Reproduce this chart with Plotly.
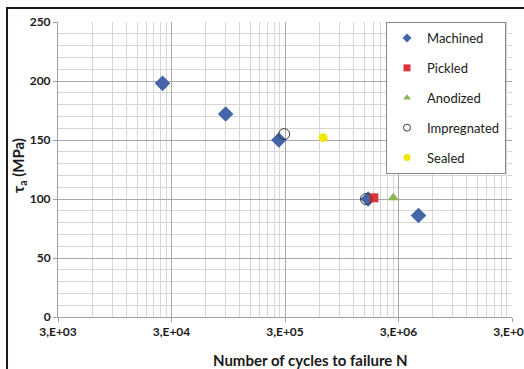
import plotly.graph_objects as go

# Torsional fatigue results: shear stress amplitude vs. cycles to failure
machined_n = [2.5e4, 9.0e4, 2.65e5, 1.62e6, 4.5e6]
machined_tau = [198, 172, 150, 100, 86]
pickled_n = [1.82e6]
pickled_tau = [101]
anodized_n = [2.7e6]
anodized_tau = [101]
impregnated_n = [2.95e5, 1.55e6]
impregnated_tau = [155, 100]
sealed_n = [6.5e5]
sealed_tau = [152]

x_ticks = [3e3, 3e4, 3e5, 3e6, 3e7]
x_ticktext = ["3,E+03", "3,E+04", "3,E+05", "3,E+06", "3,E+07"]

FONT = "Lato, Carlito, Calibri, sans-serif"
INK = "#1A1A1A"

fig = go.Figure()

series = [
    ("Machined", machined_n, machined_tau, "diamond", 12, "#4466A8", 0),
    ("Pickled", pickled_n, pickled_tau, "square", 9, "#D9353A", 0),
    ("Anodized", anodized_n, anodized_tau, "triangle-up", 10, "#8DB558", 0),
    ("Impregnated", impregnated_n, impregnated_tau, "circle-open", 11, "#3A3A3A", 1),
    ("Sealed", sealed_n, sealed_tau, "circle", 9, "#F2E600", 0),
]
for i, (name, xs, ys, sym, size, color, lw) in enumerate(series):
    fig.add_trace(go.Scatter(
        x=xs, y=ys, mode="markers", name=name, showlegend=False,
        legendgroup=f"g{i}",
        marker=dict(symbol=sym, size=size, color=color, line=dict(width=lw, color=color))))
    # legend key with a smaller symbol than the plotted marker
    fig.add_trace(go.Scatter(
        x=[None], y=[None], mode="markers", name=name, legendgroup=f"g{i}",
        marker=dict(symbol=sym, size=7, color=color, line=dict(width=lw, color=color))))

# minor grid lines at multiples of each 3·10^n decade start
minor_x = [3 * k * 10 ** e for e in range(3, 7) for k in range(2, 10)]

axis_font = dict(family=FONT, size=12, color=INK, weight="bold")

fig.update_xaxes(
    type="log", range=[3.4771, 7.4771],
    tickvals=x_ticks, ticktext=x_ticktext,
    showgrid=True, gridcolor="#A8A8A8", gridwidth=1,
    minor=dict(tickvals=minor_x, showgrid=True, gridcolor="#D6D6D6", ticklen=0),
    ticks="outside", ticklen=4, tickcolor="#A0A0A0",
    showline=True, linecolor="#A0A0A0", linewidth=1,
    tickfont=axis_font, ticklabeloverflow="allow", automargin=False,
    zeroline=False,
)
fig.update_yaxes(
    range=[0, 250], dtick=50,
    showgrid=True, gridcolor="#A8A8A8", gridwidth=1,
    minor=dict(dtick=10, showgrid=True, gridcolor="#D6D6D6", ticklen=0),
    ticks="outside", ticklen=4, tickcolor="#A0A0A0",
    showline=True, linecolor="#A0A0A0", linewidth=1,
    tickfont=axis_font, automargin=False,
    zeroline=False,
)

# chart frame
fig.add_shape(type="rect", xref="paper", yref="paper",
              x0=-0.1123, x1=1.2, y0=-0.4, y1=1.0475,
              line=dict(color=INK, width=2), layer="above")

fig.add_annotation(text="<b>Number of cycles to failure N</b>", xref="paper", yref="paper",
                   x=0.557, y=-0.145, showarrow=False, xanchor="center", yanchor="middle",
                   font=dict(family=FONT, size=15, color=INK))
fig.add_annotation(text="<b>τ</b><sub><b>a</b></sub><b> (MPa)</b>", xref="paper", yref="paper",
                   x=-0.086, y=0.515, showarrow=False, textangle=-90,
                   xanchor="center", yanchor="middle",
                   font=dict(family=FONT, size=15, color=INK))

fig.update_layout(
    width=524, height=369,
    margin=dict(l=58, r=12, t=22, b=52, autoexpand=False),
    paper_bgcolor="white", plot_bgcolor="white",
    showlegend=True,
    legend=dict(x=0.7225, y=1.0, xanchor="left", yanchor="top",
                bgcolor="white", bordercolor="#8A8A8A", borderwidth=1,
                font=dict(family=FONT, size=13, color=INK),
                tracegroupgap=10, itemwidth=30),
)

fig.write_html("out.html")
